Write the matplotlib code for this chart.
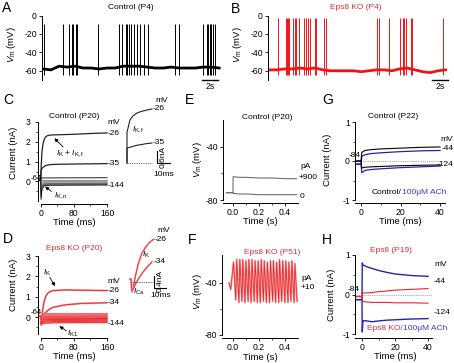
import matplotlib
matplotlib.use('Agg')
import matplotlib.pyplot as plt
from matplotlib.ticker import FixedLocator

plt.rcParams['font.family'] = ['Liberation Sans', 'DejaVu Sans']
plt.rcParams['mathtext.fontset'] = 'custom'
plt.rcParams['mathtext.rm'] = 'Liberation Sans'
plt.rcParams['mathtext.it'] = 'Liberation Sans:italic'
plt.rcParams['axes.unicode_minus'] = False
plt.rcParams['axes.linewidth'] = 0.7

# ------------------------- data -------------------------
# A: control spontaneous firing (P4)
a_spike_t = [0.1, 2.54, 3.29, 3.58, 3.79, 4.08, 4.25, 6.83, 9.54, 9.9, 10.38, 10.55, 10.75,
             11.0, 11.33, 11.75, 12.17, 12.67, 13.08, 16.54, 16.92, 19.92, 20.42, 20.63,
             20.79, 21.0, 21.25, 21.42]
a_spike_peak = -9
a_spike_trough = -65
a_base_t = [0, 1, 2, 3, 4, 5, 6, 7, 8, 9, 10, 11, 12, 13, 14, 15, 16, 17, 18, 19, 20, 21, 22]
a_base_v = [-58, -59, -55, -56, -55, -57, -57, -58, -57, -57, -55, -55, -55, -56, -57, -57,
            -56, -57, -57, -57, -56, -56, -57]

# B: Eps8 KO spontaneous firing (P4)
b_spike_t = [1.17, 2.17, 2.35, 2.48, 2.61, 3.13, 3.35, 3.48, 3.91, 4.52, 4.78, 5.04, 5.30,
             5.96, 6.09, 7.13, 7.35, 14.09, 14.26, 15.57, 17.09, 17.39, 17.61, 17.83, 18.48,
             18.61, 22.61]
b_spike_peak = -3
b_spike_trough = -65
b_base_t = [0, 1, 2, 3, 4, 5, 6, 7, 8, 9, 10, 11, 12, 13, 14, 15, 16, 17, 18, 19, 20, 21, 22, 23]
b_base_v = [-59, -59, -58, -58, -57, -58, -57, -59, -60, -60, -60, -60, -61, -60, -59, -59,
            -60, -58, -57, -59, -61, -62, -60, -59]

# C: control currents (P20)
c_t = [-5, 0, 1, 3, 6, 10, 15, 20, 30, 50, 80, 120, 160]
c_m26 = [0.05, 0.05, 0.7, 1.5, 1.95, 2.2, 2.3, 2.33, 2.35, 2.36, 2.38, 2.42, 2.45]
c_m35 = [0.05, 0.05, 0.55, 0.65, 0.72, 0.78, 0.82, 0.84, 0.86, 0.87, 0.88, 0.89, 0.9]
c_small_t = [-5, 0, 0.8, 3, 8, 20, 160]
c_small = [
    [0.05, 0.05, 0.18, 0.18, 0.18, 0.18, 0.19],
    [0.05, 0.05, 0.02, 0.04, 0.05, 0.05, 0.05],
    [0.05, 0.05, -0.15, -0.05, 0.0, 0.0, 0.01],
    [0.05, 0.05, -0.3, -0.12, -0.05, -0.03, -0.03],
    [0.05, 0.05, -0.4, -0.18, -0.09, -0.07, -0.06],
    [0.05, 0.05, -0.5, -0.22, -0.12, -0.1, -0.09],
    [0.05, 0.05, -0.6, -0.28, -0.15, -0.13, -0.12],
    [0.05, 0.05, -0.75, -0.33, -0.18, -0.16, -0.15],
    [0.05, 0.05, -0.9, -0.4, -0.22, -0.19, -0.18],
]
c_small_col = ['#222222', '#8a8a8a', '#a0a0a0', '#8a8a8a', '#a0a0a0', '#777777', '#555555',
               '#777777', '#111111']
# C inset (fast K current)
ci_t26 = [0, 0, 1, 2.3, 4.5, 7.7, 11, 15.4, 19.2]
ci_i26 = [0, 1.55, 1.8, 2.15, 2.35, 2.5, 2.58, 2.65, 2.7]
ci_t35 = [0, 0, 3, 7, 11, 15, 19.2]
ci_i35 = [0, 0.75, 0.8, 0.88, 0.92, 0.97, 1.0]

# D: Eps8 KO currents (P20)
d_t = [-5, 0, 1, 2, 4, 6, 8, 12, 16, 20, 30, 60, 100, 160]
d_m26 = [0.05, 0.05, -0.15, -0.1, 0.2, 0.5, 0.75, 1.0, 1.15, 1.22, 1.3, 1.33, 1.32, 1.3]
d_m34 = [0.05, 0.05, -0.12, -0.1, 0.0, 0.07, 0.13, 0.22, 0.3, 0.37, 0.48, 0.6, 0.67, 0.7]
d_small_t = [-5, 0, 1, 4, 10, 40, 160]
d_small = [
    [0.05, 0.05, 0.05, 0.12, 0.15, 0.15, 0.15],
    [0.05, 0.05, 0.0, 0.03, 0.05, 0.05, 0.06],
    [0.05, 0.05, -0.05, -0.02, 0.0, 0.0, 0.0],
    [0.05, 0.05, -0.12, -0.07, -0.05, -0.05, -0.05],
    [0.05, 0.05, -0.18, -0.12, -0.1, -0.09, -0.08],
    [0.05, 0.05, -0.22, -0.16, -0.14, -0.12, -0.11],
    [0.05, 0.05, -0.28, -0.21, -0.19, -0.17, -0.16],
    [0.05, 0.05, -0.33, -0.26, -0.24, -0.22, -0.21],
    [0.05, 0.05, -0.4, -0.32, -0.3, -0.28, -0.27],
]
# D inset
di_t26 = [-1, 0, 0.8, 2, 4, 6, 9, 12, 15, 19]
di_i26 = [0.1, 0.1, -0.33, -0.15, 0.25, 0.6, 0.95, 1.15, 1.3, 1.43]
di_t34 = [-1, 0, 0.8, 2, 4, 7, 10, 13.5, 17.5]
di_i34 = [0.1, 0.1, -0.3, -0.22, -0.05, 0.15, 0.33, 0.5, 0.67]

# E: control current clamp (P20)
e_t = [-0.05, 0, 0.001, 0.05, 0.1, 0.2, 0.3, 0.4, 0.49]
e_900 = [-74.5, -74.5, -62.5, -63, -63, -63.5, -63.5, -64, -64]
e_0 = [-74.5, -74.5, -75, -75.5, -75.5, -76, -76, -76, -76]

# F: Eps8 KO oscillations (P51)
f_start_t = [-0.03, -0.018]
f_start_v = [-40, -45]
f_peak_t = [0.004, 0.028, 0.052, 0.075, 0.099, 0.122, 0.146, 0.170, 0.193, 0.217, 0.240,
            0.264, 0.288, 0.311, 0.335, 0.358, 0.382, 0.406, 0.429, 0.453, 0.476]
f_peak_v = [-24, -22, -22, -22, -23, -22, -22, -23, -23, -22, -23, -24, -23, -23, -24, -22,
            -23, -23, -24, -23, -25]
f_trough_t = [0.021, 0.045, 0.069, 0.092, 0.116, 0.139, 0.163, 0.187, 0.210, 0.234, 0.257,
              0.281, 0.305, 0.328, 0.352, 0.375, 0.399, 0.423, 0.446, 0.470, 0.493]
f_trough_v = [-53, -55, -54, -55, -54, -55, -54, -55, -55, -54, -55, -55, -54, -55, -55, -54,
              -55, -55, -54, -55, -54]

# G: control (P22), control vs ACh
g_t = [-3, 0, 0.4, 2, 5, 10, 20, 30, 40]
g_ctrl_44 = [0.0, 0.0, 0.22, 0.27, 0.29, 0.31, 0.33, 0.35, 0.36]
g_ach_44 = [-0.08, -0.08, 0.12, 0.16, 0.19, 0.21, 0.24, 0.26, 0.27]
g_ctrl_124 = [0.0, 0.0, -0.18, -0.16, -0.15, -0.14, -0.12, -0.11, -0.1]
g_ach_124 = [-0.08, -0.08, -0.3, -0.24, -0.22, -0.2, -0.17, -0.15, -0.13]

# H: Eps8 (P19), Eps8 KO vs ACh
h_t = [-4, 0, 0.15, 0.5, 1, 3, 6, 10, 15, 20, 30, 40]
h_ach_44 = [-0.13, -0.13, 0.8, 0.76, 0.74, 0.7, 0.66, 0.61, 0.56, 0.52, 0.48, 0.46]
h_ach_124 = [-0.13, -0.13, -0.95, -0.7, -0.66, -0.67, -0.69, -0.67, -0.65, -0.64, -0.62, -0.61]
h_ctrl_44 = [-0.05, -0.05, 0.05, 0.05, 0.04, 0.04, 0.05, 0.07, 0.09, 0.11, 0.13, 0.15]
h_ctrl_124 = [-0.05, -0.05, -0.17, -0.17, -0.18, -0.19, -0.2, -0.2, -0.2, -0.21, -0.21, -0.22]

# ------------------------- layout helpers -------------------------
W, H = 454, 363
fig = plt.figure(figsize=(W / 100, H / 100), dpi=100)
RED = '#e8262b'
TRED = '#e0303a'
BLUE = '#2323b4'
TBLUE = '#3b3bd0'
FS_T = 6
FS_TICK = 6.2
FS_LAB = 6.8


def add_ax(l, t, r, b):
    return fig.add_axes([l / W, 1 - b / H, (r - l) / W, (b - t) / H])


def ftext(x, y, s, **kw):
    return fig.text(x / W, 1 - y / H, s, **kw)


def style(ax, bottom=True, out=2.2):
    for s in ['top', 'right']:
        ax.spines[s].set_visible(False)
    ax.patch.set_alpha(0)
    ax.tick_params(labelsize=FS_TICK, length=2.5, width=0.6, pad=1.2)
    ax.tick_params(which='minor', length=1.5, width=0.5)
    if bottom:
        ax.spines['bottom'].set_position(('outward', out))
    else:
        ax.spines['bottom'].set_visible(False)
        ax.set_xticks([])


letters = [('A', 7, 8), ('B', 235, 9), ('C', 8, 100), ('D', 8, 239), ('E', 189, 100),
           ('F', 192, 240), ('G', 328, 100), ('H', 327, 240)]
for s, x, y in letters:
    ftext(x, y, s, fontsize=10, ha='center', va='center')

vm_label = r'$V_{\mathrm{m}}$ (mV)'
cur_label = 'Current (nA)'

# ------------------------- A -------------------------
axA = add_ax(42, 15.5, 222, 80)
style(axA, bottom=False)
axA.plot(a_base_t, a_base_v, color='black', lw=2.0)
axA.vlines(a_spike_t, a_spike_trough, a_spike_peak, color='black', lw=0.7)
axA.set_xlim(-0.125, 22.35)
axA.set_ylim(-70, 0)
axA.set_yticks([0, -20, -40, -60])
axA.spines['left'].set_bounds(-70, 0)
axA.plot([19.9, 21.9], [-69.5, -69.5], color='black', lw=1, clip_on=False)
axA.text(20.9, -72.5, '2s', fontsize=FS_TICK, ha='center', va='top')
ftext(131, 7.5, 'Control (P4)', fontsize=FS_T, ha='center', va='center')
ftext(11, 45, vm_label, fontsize=FS_LAB, rotation=90, ha='center', va='center')

# ------------------------- B -------------------------
axB = add_ax(268, 15.5, 449, 80)
style(axB, bottom=False)
axB.plot(b_base_t, b_base_v, color='#f01414', lw=2.0)
axB.vlines(b_spike_t, b_spike_trough, b_spike_peak, color='#f01414', lw=0.7)
axB.set_xlim(-0.15, 23.45)
axB.set_ylim(-70, 0)
axB.set_yticks([0, -20, -40, -60])
axB.spines['left'].set_bounds(-70, 0)
axB.plot([21.27, 23.27], [-69.5, -69.5], color='black', lw=1, clip_on=False)
axB.text(22.27, -72.5, '2s', fontsize=FS_TICK, ha='center', va='top')
ftext(356, 7.5, 'Eps8 KO (P4)', fontsize=FS_T, ha='center', va='center', color=TRED)
ftext(238, 45, vm_label, fontsize=FS_LAB, rotation=90, ha='center', va='center')

# ------------------------- C -------------------------
axC = add_ax(38, 122, 110, 201.3)
style(axC, out=2.0)
axC.tick_params(axis='y', pad=3.0)
for vals, col in zip(c_small, c_small_col):
    axC.plot(c_small_t, vals, color=col, lw=0.7)
axC.plot(c_t, c_m35, color='#222222', lw=0.9)
axC.plot(c_t, c_m26, color='#222222', lw=0.9)
axC.set_xlim(-6.5, 167)
axC.set_ylim(-1.0, 3.0)
axC.set_yticks([0, 1, 2, 3])
axC.yaxis.set_minor_locator(FixedLocator([-0.5, 0.5, 1.5, 2.5]))
axC.set_xticks([0, 80, 160])
axC.xaxis.set_minor_locator(FixedLocator([40, 120]))
axC.spines['left'].set_bounds(-1, 3)
axC.spines['bottom'].set_bounds(0, 160)
kwt = dict(fontsize=FS_T, va='center', ha='left', clip_on=False)
axC.text(160, 2.95, 'mV', **kwt)
axC.text(161, 2.42, '-26', **kwt)
axC.text(161, 0.9, '-35', **kwt)
axC.text(161, -0.18, '-144', **kwt)
axC.text(2.2, 0.16, '-64', fontsize=5.6, va='center', ha='right')
arrow = dict(arrowstyle='-|>', lw=0.6, color='black', mutation_scale=5, shrinkA=0, shrinkB=0)
axC.annotate('', xy=(33, 2.18), xytext=(54, 1.74), arrowprops=arrow)
axC.text(37, 1.42, r'$I_{\mathrm{K}}$ + $I_{\mathrm{K,f}}$', fontsize=FS_T, va='center', ha='left')
axC.annotate('', xy=(10.4, -0.26), xytext=(26, -0.5), arrowprops=arrow)
axC.text(32, -0.7, r'$I_{\mathrm{K,n}}$', fontsize=FS_T, va='center', ha='left')
ftext(74, 117, 'Control (P20)', fontsize=FS_T, ha='center', va='center')
ftext(13, 153, cur_label, fontsize=FS_LAB, rotation=90, ha='center', va='center')
ftext(74, 222.5, 'Time (ms)', fontsize=FS_LAB, ha='center', va='center')

# C inset
axCi = add_ax(124, 95, 176, 180)
axCi.axis('off')
axCi.set_xlim(-2.31, 37.7)
axCi.set_ylim(-0.85, 3.4)
axCi.plot(ci_t26, ci_i26, color='#222222', lw=0.8)
axCi.plot(ci_t35, ci_i35, color='#222222', lw=0.8)
axCi.plot([0, 19], [0, 0], color='#555555', lw=0.6, ls=(0, (1.5, 1.2)))
axCi.plot([23, 23, 33], [0.6, 0, 0], color='black', lw=0.8)
axCi.text(21.5, 3.15, 'mV', fontsize=FS_T, ha='left', va='center')
axCi.text(20, 2.75, '-26', fontsize=FS_T, ha='left', va='center')
axCi.text(20, 1.0, '-35', fontsize=FS_T, ha='left', va='center')
axCi.text(4.0, 1.65, r'$I_{\mathrm{K,f}}$', fontsize=FS_T, ha='left', va='center')
axCi.text(28.5, -0.55, '10ms', fontsize=FS_T, ha='center', va='center')
axCi.text(27.5, 0.3, '0.6nA', fontsize=FS_T, ha='center', va='center', rotation=90)

# ------------------------- D -------------------------
axD = add_ax(38, 256, 110, 334.3)
style(axD, out=2.8)
axD.tick_params(axis='y', pad=3.0)
for vals in d_small:
    axD.plot(d_small_t, vals, color='#f6a3a3', lw=1.4)
for vals in d_small:
    axD.plot(d_small_t, vals, color=RED, lw=0.6)
for tr in (d_m34, d_m26):
    axD.plot(d_t, tr, color='#f6a3a3', lw=1.4)
    axD.plot(d_t, tr, color=RED, lw=0.7)
axD.set_xlim(-6.5, 167)
axD.set_ylim(-0.85, 3.0)
axD.set_yticks([0, 1, 2, 3])
axD.yaxis.set_minor_locator(FixedLocator([-0.5, 0.5, 1.5, 2.5]))
axD.set_xticks([0, 80, 160])
axD.xaxis.set_minor_locator(FixedLocator([40, 120]))
axD.spines['left'].set_bounds(-0.85, 3)
axD.spines['bottom'].set_bounds(0, 160)
axD.text(161, 1.77, 'mV', **kwt)
axD.text(161, 1.3, '-26', **kwt)
axD.text(161, 0.72, '-34', **kwt)
axD.text(161, -0.34, '-144', **kwt)
axD.text(2.2, 0.24, '-64', fontsize=5.6, va='center', ha='right')
axD.annotate('', xy=(34.5, 1.52), xytext=(22, 1.95), arrowprops=arrow)
axD.text(15, 2.15, r'$I_{\mathrm{K}}$', fontsize=FS_T, va='center', ha='center')
axD.annotate('', xy=(45, -0.45), xytext=(62, -0.68), arrowprops=arrow)
axD.text(64, -0.82, r'$I_{\mathrm{K1}}$', fontsize=FS_T, va='center', ha='left')
ftext(74, 249, 'Eps8 KO (P20)', fontsize=FS_T, ha='center', va='center', color=TRED)
ftext(13, 285, cur_label, fontsize=FS_LAB, rotation=90, ha='center', va='center')
ftext(74, 356.5, 'Time (ms)', fontsize=FS_LAB, ha='center', va='center')

# D inset
axDi = add_ax(126, 225, 172, 300)
axDi.axis('off')
axDi.set_xlim(-4.17, 34.2)
axDi.set_ylim(-0.6, 1.9)
for tt, ii in ((di_t26, di_i26), (di_t34, di_i34)):
    axDi.plot(tt, ii, color='#f6a3a3', lw=1.3)
    axDi.plot(tt, ii, color=RED, lw=0.6)
axDi.plot([0.5, 18.5], [0, 0], color='#555555', lw=0.6, ls=(0, (1.5, 1.2)))
axDi.plot([19.2, 19.2, 29.2], [0.2, -0.2, -0.2], color='black', lw=0.8)
axDi.text(21.7, 1.72, 'mV', fontsize=FS_T, ha='left', va='center')
axDi.text(20, 1.43, '-26', fontsize=FS_T, ha='left', va='center')
axDi.text(19, 0.67, '-34', fontsize=FS_T, ha='left', va='center')
axDi.text(9.2, 0.9, r'$I_{\mathrm{K}}$', fontsize=FS_T, ha='left', va='center')
axDi.text(1.5, -0.32, r'$I_{\mathrm{Ca}}$', fontsize=FS_T, ha='left', va='center')
axDi.text(24.5, -0.44, '10ms', fontsize=FS_T, ha='center', va='center')
axDi.text(24.5, 0.05, '0.4nA', fontsize=FS_T, ha='center', va='center', rotation=90)

# ------------------------- E -------------------------
axE = add_ax(223, 120, 298, 200)
style(axE, out=2.2)
axE.plot(e_t, e_900, color='#6e6e6e', lw=0.8)
axE.plot(e_t, e_0, color='#6e6e6e', lw=0.8)
axE.set_xlim(-0.077, 0.5)
axE.set_ylim(-80, -20)
axE.set_yticks([-80, -40])
axE.yaxis.set_minor_locator(FixedLocator([-60]))
axE.set_xticks([0, 0.2, 0.4])
axE.set_xticklabels(['0.0', '0.2', '0.4'])
axE.xaxis.set_minor_locator(FixedLocator([0.1, 0.3]))
axE.text(0.52, -55, 'pA', **kwt)
axE.text(0.505, -63.4, '+900', **kwt)
axE.text(0.515, -77, '0', **kwt)
ftext(267, 118, 'Control (P20)', fontsize=FS_T, ha='center', va='center')
ftext(198, 160, vm_label, fontsize=FS_LAB, rotation=90, ha='center', va='center')
ftext(260, 221, 'Time (s)', fontsize=FS_LAB, ha='center', va='center')

# ------------------------- F -------------------------
axF = add_ax(222, 255, 298, 335)
style(axF, out=2.2)
f_t = list(f_start_t)
f_v = list(f_start_v)
for pt, pv, tt, tv in zip(f_peak_t, f_peak_v, f_trough_t, f_trough_v):
    f_t += [pt, tt]
    f_v += [pv, tv]
axF.plot(f_t, f_v, color='#f6a3a3', lw=1.4)
axF.plot(f_t, f_v, color=RED, lw=0.55)
axF.set_xlim(-0.085, 0.5)
axF.set_ylim(-80, -18.5)
axF.set_yticks([-80, -40])
axF.yaxis.set_minor_locator(FixedLocator([-60]))
axF.set_xticks([0, 0.2, 0.4])
axF.set_xticklabels(['0.0', '0.2', '0.4'])
axF.xaxis.set_minor_locator(FixedLocator([0.1, 0.3]))
axF.text(0.53, -36.5, 'pA', **kwt)
axF.text(0.52, -43.5, '+10', **kwt)
ftext(272, 253, 'Eps8 KO (P51)', fontsize=FS_T, ha='center', va='center', color=TRED)
ftext(197, 292, vm_label, fontsize=FS_LAB, rotation=90, ha='center', va='center')
ftext(260, 357, 'Time (s)', fontsize=FS_LAB, ha='center', va='center')

# ------------------------- G -------------------------
axG = add_ax(355, 122, 445, 200)
style(axG, out=2.2)
axG.plot([-3, 42.5], [0, 0], color='#888888', lw=0.6, ls=(0, (1, 1.2)))
axG.plot(g_t, g_ach_124, color=BLUE, lw=0.9)
axG.plot(g_t, g_ach_44, color=BLUE, lw=0.9)
axG.plot(g_t, g_ctrl_124, color='black', lw=0.8)
axG.plot(g_t, g_ctrl_44, color='black', lw=0.8)
axG.set_xlim(-3.04, 42.5)
axG.set_ylim(-1, 1)
axG.set_yticks([-1, 0, 1])
axG.yaxis.set_minor_locator(FixedLocator([-0.5, 0.5]))
axG.set_xticks([0, 20, 40])
axG.xaxis.set_minor_locator(FixedLocator([10, 30]))
axG.text(40.3, 0.56, 'mV', **kwt)
axG.text(40.6, 0.33, '-44', **kwt)
axG.text(38.3, -0.1, '-124', **kwt)
axG.text(-0.3, 0.15, '-84', fontsize=FS_T, va='center', ha='right')
tg = axG.text(5.6, -0.8, 'Control/', fontsize=FS_T, va='center', ha='left')
axG.annotate('100\u03bcM ACh', xy=(1, 0.5), xycoords=tg, va='center', ha='left',
             fontsize=FS_T, color=TBLUE)
ftext(393, 116, 'Control (P22)', fontsize=FS_T, ha='center', va='center')
ftext(328, 160, cur_label, fontsize=FS_LAB, rotation=90, ha='center', va='center')
ftext(400, 221, 'Time (ms)', fontsize=FS_LAB, ha='center', va='center')

# ------------------------- H -------------------------
axH = add_ax(355, 255, 432, 334)
style(axH, out=2.8)
axH.plot([-4, 42.4], [0, 0], color='#888888', lw=0.6, ls=(0, (1, 1.2)))
axH.plot(h_t, h_ach_124, color=BLUE, lw=1.0)
axH.plot(h_t, h_ach_44, color=BLUE, lw=1.0)
axH.plot(h_t, h_ctrl_124, color=RED, lw=0.8)
axH.plot(h_t, h_ctrl_44, color=RED, lw=0.8)
axH.set_xlim(-4.24, 42.4)
axH.set_ylim(-1, 1)
axH.set_yticks([-1, 0, 1])
axH.yaxis.set_minor_locator(FixedLocator([-0.5, 0.5]))
axH.set_xticks([0, 20, 40])
axH.xaxis.set_minor_locator(FixedLocator([10, 30]))
axH.text(43.6, 0.76, 'mV', **kwt)
axH.text(43.6, 0.33, '-44', **kwt)
axH.text(43.6, -0.46, '-124', **kwt)
axH.text(-1.2, 0.13, '-84', fontsize=FS_T, va='center', ha='right')
th = axH.text(3.0, -0.86, 'Eps8 KO/', fontsize=FS_T, va='center', ha='left', color=TRED)
axH.annotate('100\u03bcM ACh', xy=(1, 0.5), xycoords=th, va='center', ha='left',
             fontsize=FS_T, color=TBLUE)
ftext(391, 250, 'Eps8 (P19)', fontsize=FS_T, ha='center', va='center', color=TRED)
ftext(331, 295, cur_label, fontsize=FS_LAB, rotation=90, ha='center', va='center')
ftext(395, 356.5, 'Time (ms)', fontsize=FS_LAB, ha='center', va='center')

fig.savefig('out.png', dpi=100)
